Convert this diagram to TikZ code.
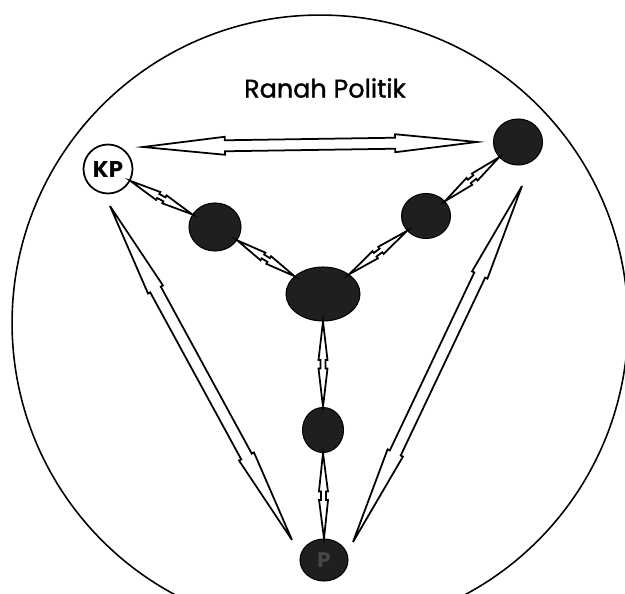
\documentclass[tikz,border=0pt]{standalone}
\usepackage{fontspec}
\setsansfont{Poppins}
\newfontfamily\titlefont[FakeBold=1.2]{Poppins}
\usetikzlibrary{calc,shapes.geometric}
% hollow double-headed arrow: start, end, head fraction, head half-width, shaft half-width
\newcommand\hollowarrow[5]{%
  \path (#1) coordinate (ha-a) (#2) coordinate (ha-b);
  \path ($(ha-a)!#3!(ha-b)$) coordinate (ha-h1) ($(ha-b)!#3!(ha-a)$) coordinate (ha-h2);
  \draw[hollow] (ha-a) -- ($(ha-h1)!#4!90:(ha-b)$) -- ($(ha-h1)!#5!90:(ha-b)$)
    -- ($(ha-h2)!#5!-90:(ha-a)$) -- ($(ha-h2)!#4!-90:(ha-a)$) -- (ha-b)
    -- ($(ha-h2)!#4!90:(ha-a)$) -- ($(ha-h2)!#5!90:(ha-a)$)
    -- ($(ha-h1)!#5!-90:(ha-b)$) -- ($(ha-h1)!#4!-90:(ha-b)$) -- cycle;}
\begin{document}
\begin{tikzpicture}[x=0.02cm,y=-0.02cm,
  hollow/.style={draw=black, line width=1pt, fill=white, line join=miter},
  ball/.style={ellipse, draw=black, line width=0.6pt, fill=black!88, inner sep=0pt},
  kpnode/.style={circle, draw=black, line width=1pt, fill=white, inner sep=0pt,
    minimum size=0.98cm, font=\sffamily\bfseries\fontsize{13}{15}\selectfont},
  title/.style={font=\titlefont\fontsize{14.5}{17}\selectfont}]
\useasboundingbox (0,0) rectangle (625,594);
\clip (0,0) rectangle (625,594);
\fill[white] (0,0) rectangle (625,594);
\draw[line width=0.9pt] (320,323) circle[radius=6.16cm];
\node[title] (t) at (325,88) {Ranah Politik};
\node[kpnode] (kp) at (108,169) {KP};
\node[ball, minimum width=1.04cm, minimum height=0.96cm] (b1) at (215,227) {};
\node[ball, minimum width=0.98cm, minimum height=0.92cm] (b3) at (518,142) {};
\node[ball, minimum width=0.98cm, minimum height=0.90cm] (b2) at (426,216) {};
\node[ball, minimum width=1.48cm, minimum height=1.08cm] (c) at (323,294) {};
\node[ball, minimum width=0.82cm, minimum height=0.90cm] (b4) at (323,430) {};
\node[ball, minimum width=0.96cm, minimum height=0.84cm, text=black!72,
  font=\sffamily\bfseries\fontsize{12}{14}\selectfont] (b5) at (324,560) {P};
% free ends of the long arrows
\coordinate (h1) at (143,147);
\coordinate (h2) at (477,142);
\coordinate (l1) at (110,206);
\coordinate (l2) at (292,540);
\coordinate (r1) at (522,186);
\coordinate (r2) at (353,542);
% long hollow arrows
\hollowarrow{h1}{h2}{0.245}{1.8mm}{1.1mm}
\hollowarrow{l1}{l2}{0.25}{1.7mm}{1.2mm}
\hollowarrow{r1}{r2}{0.25}{1.7mm}{1.2mm}
% short chained connectors
\hollowarrow{kp.-28.5}{b1.151.5}{0.45}{0.9mm}{0.45mm}
\hollowarrow{b1.-31.8}{c.148.2}{0.45}{0.9mm}{0.45mm}
\hollowarrow{c.37.1}{b2.-142.9}{0.45}{0.9mm}{0.45mm}
\hollowarrow{b2.38.8}{b3.-141.2}{0.45}{0.9mm}{0.45mm}
\hollowarrow{c.south}{b4.north}{0.45}{0.9mm}{0.5mm}
\hollowarrow{b4.south}{b5.north}{0.45}{0.9mm}{0.5mm}
\end{tikzpicture}
\end{document}
